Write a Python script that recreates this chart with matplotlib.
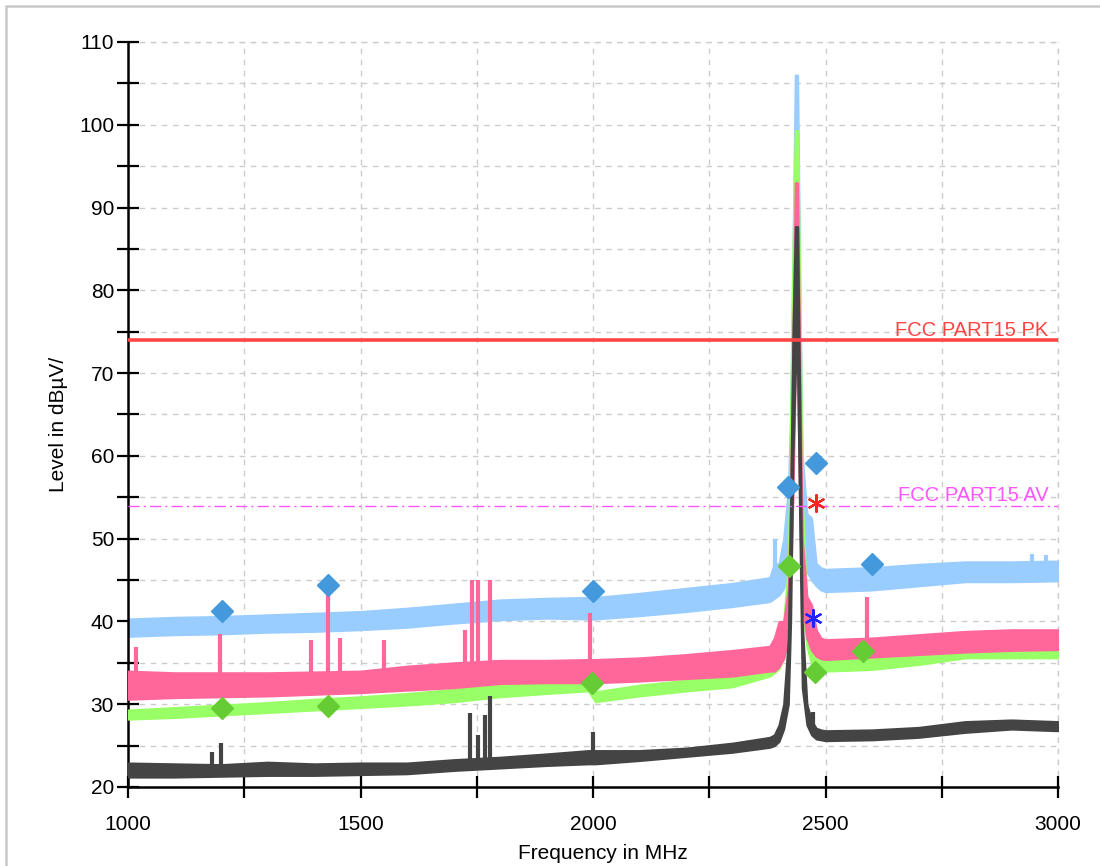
import matplotlib
matplotlib.use("Agg")
import matplotlib.pyplot as plt
from matplotlib.patches import Rectangle
from matplotlib.ticker import MultipleLocator, FixedLocator

plt.rcParams['font.family'] = ['Liberation Sans', 'DejaVu Sans']

# ---------------- data ----------------
freq = [1000, 1100, 1200, 1300, 1400, 1500, 1600, 1700, 1800, 1900, 1990, 2005,
        2100, 2200, 2300, 2380,
        2390, 2400, 2410, 2420, 2425, 2430, 2435, 2440, 2445, 2450, 2460, 2470,
        2480, 2490, 2500,
        2600, 2700, 2800, 2900, 3000]

blue_low = [38.2, 38.4, 38.5, 38.7, 38.8, 39.0, 39.3, 39.8, 40.2, 40.4, 40.3, 40.3,
            40.7, 41.2, 41.8, 42.4,
            42.8, 43.2, 44.0, 46.0, 50.0, 60.0, 80.0, 80.0, 60.0, 50.0, 46.0, 45.0,
            44.3, 43.8, 43.6,
            43.8, 44.3, 44.8, 44.8, 44.9]
blue_high = [40.3, 40.5, 40.6, 40.8, 41.0, 41.2, 41.6, 42.1, 42.6, 42.8, 42.9, 42.9,
             43.4, 44.0, 44.6, 45.3,
             47.0, 47.0, 50.0, 56.0, 65.0, 85.0, 106.0, 106.0, 80.0, 60.0, 53.0, 52.5,
             47.0, 46.5, 46.3,
             46.5, 46.9, 47.2, 47.2, 47.3]

pink_low = [30.6, 30.8, 30.9, 31.0, 31.2, 31.4, 31.7, 32.0, 32.5, 32.6, 32.6, 32.6,
            32.8, 33.1, 33.4, 34.0,
            34.0, 34.5, 35.5, 38.0, 45.0, 55.0, 70.0, 70.0, 52.0, 42.0, 38.0, 36.5,
            35.8, 35.5, 35.4,
            35.7, 36.0, 36.3, 36.5, 36.6]
pink_high = [34.0, 33.8, 33.8, 33.8, 33.9, 34.0, 34.6, 35.0, 35.3, 35.3, 35.4, 35.4,
             35.6, 36.0, 36.5, 37.0,
             38.0, 40.0, 40.0, 44.0, 55.0, 75.0, 93.0, 93.0, 70.0, 50.0, 43.0, 42.0,
             39.0, 38.0, 37.8,
             38.0, 38.4, 38.8, 39.0, 39.0]

green_low = [28.2, 28.4, 28.7, 29.0, 29.3, 29.6, 29.9, 30.3, 30.9, 31.3, 31.6, 30.3,
             31.0, 31.6, 32.1, 33.4,
             33.8, 34.3, 35.5, 39.0, 50.0, 60.0, 75.0, 75.0, 55.0, 42.0, 37.0, 34.8,
             34.2, 34.0, 34.0,
             34.2, 34.8, 35.6, 35.6, 35.6]
green_high = [29.3, 29.6, 29.9, 30.2, 30.6, 30.9, 31.3, 31.8, 32.4, 32.6, 32.8, 31.5,
              32.3, 32.9, 33.4, 34.8,
              35.5, 37.0, 40.0, 47.0, 65.0, 85.0, 99.3, 99.3, 80.0, 55.0, 42.0, 37.5,
              35.7, 35.4, 35.3,
              35.5, 36.0, 36.8, 36.8, 36.6]

dark_low = [21.2, 21.2, 21.3, 21.4, 21.4, 21.5, 21.6, 22.0, 22.3, 22.6, 22.8, 22.8,
            23.2, 23.7, 24.2, 24.8,
            25.0, 25.5, 27.0, 30.0, 40.0, 60.0, 70.0, 70.0, 50.0, 32.0, 27.5, 26.3,
            25.8, 25.7, 25.6,
            25.7, 26.0, 26.6, 27.0, 26.8]
dark_high = [22.9, 22.8, 22.7, 23.0, 22.8, 22.9, 22.9, 23.3, 23.6, 24.0, 24.4, 24.4,
             24.4, 24.7, 25.3, 26.0,
             26.3, 27.5, 30.0, 38.0, 55.0, 75.0, 87.7, 87.7, 65.0, 40.0, 30.0, 28.0,
             27.1, 26.9, 26.8,
             26.9, 27.2, 27.9, 28.1, 27.9]

# narrow spikes (frequency, base level, top level)
blue_spikes = [(1430, 40.5, 44.3), (2391, 44.5, 50.0), (2945, 46.0, 48.2), (2975, 46.0, 48.0)]
pink_spikes = [(1017, 33.0, 36.9), (1198, 33.0, 38.5), (1393, 33.0, 37.8), (1430, 33.0, 44.3),
               (1456, 33.0, 38.0), (1550, 33.0, 37.8), (1725, 34.0, 39.0), (1740, 34.0, 45.0),
               (1753, 34.0, 45.0), (1778, 34.0, 45.0), (1994, 34.5, 41.0), (2590, 37.0, 43.0)]
green_spikes = [(1778, 31.5, 35.3), (2473, 35.0, 40.3)]
dark_spikes = [(1180, 22.0, 24.2), (1200, 22.0, 25.3), (1735, 23.0, 29.0), (1753, 23.0, 26.3),
               (1768, 23.0, 28.7), (1778, 23.0, 31.0), (2000, 24.0, 26.7), (2473, 26.5, 29.1)]

# final measurement markers
pk_freq = [1202, 1430, 2000, 2419, 2480, 2600]
pk_level = [41.3, 44.4, 43.7, 56.2, 59.1, 46.9]
av_freq = [1202, 1430, 1998, 2421, 2477, 2581]
av_level = [29.5, 29.8, 32.6, 46.7, 33.9, 36.4]
star_red = (2480, 54.3)
star_blue = (2473, 40.4)

limit_pk = 74.0
limit_av = 54.0

# ---------------- figure ----------------
fig = plt.figure(figsize=(11.0, 8.66), dpi=100)
fig.patches.append(Rectangle((6 / 1100, -0.1), 1.2, 1.1 - 5.5 / 866, transform=fig.transFigure,
                             fill=False, edgecolor='#c8c8c8', linewidth=1.8, zorder=0))
ax = fig.add_axes([128 / 1100, 1 - 787 / 866, 930 / 1100, 745 / 866])

series = [(blue_low, blue_high, blue_spikes, '#99ccff', 2),
          (green_low, green_high, green_spikes, '#99ff66', 3),
          (pink_low, pink_high, pink_spikes, '#ff6699', 4),
          (dark_low, dark_high, dark_spikes, '#444444', 5)]
for lo, hi, spk, col, z in series:
    ax.fill_between(freq, lo, hi, color=col, linewidth=1.5, edgecolor=col, zorder=z)
    for f, b, t in spk:
        ax.plot([f, f], [b, t], color=col, linewidth=3.0, zorder=z,
                solid_capstyle='butt')

ax.axhline(limit_pk, color='#ff4444', linewidth=2.6, zorder=8)
ax.axhline(limit_av, color='#ff55ff', linewidth=1.0, linestyle=(0, (8, 3, 1.5, 3)), zorder=8)
ax.text(2980, limit_pk + 0.05, 'FCC PART15 PK', color='#ff4444', fontsize=14.5,
        ha='right', va='bottom', zorder=9)
ax.text(2980, limit_av + 0.05, 'FCC PART15 AV', color='#ff55ff', fontsize=14.5,
        ha='right', va='bottom', zorder=9)

ax.plot(pk_freq, pk_level, linestyle='none', marker='D', markersize=11,
        color='#4499dd', zorder=10)
ax.plot(av_freq, av_level, linestyle='none', marker='D', markersize=11,
        color='#66cc33', zorder=10)
ax.plot([star_red[0]], [star_red[1]], linestyle='none', marker=(6, 2, 0), markersize=13,
        markeredgewidth=1.6, color='#ff2222', zorder=11)
ax.plot([star_blue[0]], [star_blue[1]], linestyle='none', marker=(6, 2, 0), markersize=13,
        markeredgewidth=1.6, color='#2222ff', zorder=11)

ax.set_xlim(1000, 3000)
ax.set_ylim(20, 110)
ax.xaxis.set_major_locator(FixedLocator(list(range(1000, 3001, 250))))
ax.set_xticklabels([str(v) if v % 500 == 0 else '' for v in range(1000, 3001, 250)])
ax.yaxis.set_major_locator(MultipleLocator(10))
ax.yaxis.set_minor_locator(MultipleLocator(5))
ax.tick_params(axis='both', which='both', direction='inout', length=16, width=1.6,
               labelsize=15, colors='black')
ax.tick_params(axis='x', pad=12)
ax.tick_params(axis='y', pad=2)

ax.grid(True, which='both', color='#cccccc', linestyle=(0, (4, 4)), linewidth=1.0, zorder=0)
ax.set_axisbelow(True)
for s in ['top', 'right']:
    ax.spines[s].set_visible(False)
for s in ['left', 'bottom']:
    ax.spines[s].set_linewidth(1.8)
ax.axhline(110, color='#cccccc', linestyle=(0, (4, 4)), linewidth=1.0, zorder=0, clip_on=False)
ax.axvline(3000, color='#cccccc', linestyle=(0, (4, 4)), linewidth=1.0, zorder=0, clip_on=False)

ax.set_xlabel('Frequency in MHz', fontsize=15, va='top')
ax.xaxis.set_label_coords(0.511, -0.077)
ax.set_ylabel('Level in dBµV/', fontsize=15, va='bottom')
ax.yaxis.set_label_coords(-0.064, 0.487)

fig.savefig('out.png', dpi=100)
